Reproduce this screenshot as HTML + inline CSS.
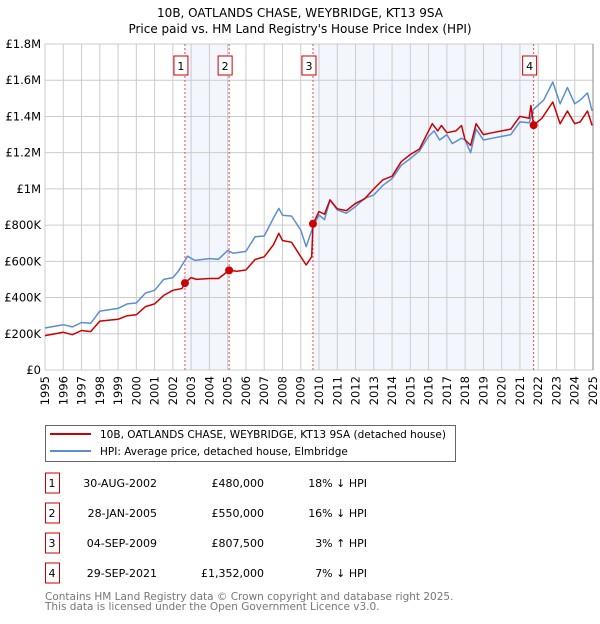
<!DOCTYPE html>
<html><head><meta charset="utf-8"><style>
body{margin:0;background:#fff;font-family:"DejaVu Sans","Liberation Sans",sans-serif;}
svg text{font-family:"DejaVu Sans","Liberation Sans",sans-serif;}
</style></head><body>
<svg id="c" width="600" height="620" viewBox="0 0 600 620" xmlns="http://www.w3.org/2000/svg">
<text x="300" y="17" text-anchor="middle" font-size="12">10B, OATLANDS CHASE, WEYBRIDGE, KT13 9SA</text>
<text x="300" y="33" text-anchor="middle" font-size="12">Price paid vs. HM Land Registry's House Price Index (HPI)</text>
<g id="plot"></g>
<g>
<rect x="45.5" y="425.5" width="410" height="36" fill="#fff" stroke="#666"/>
<line x1="50" y1="434" x2="91" y2="434" stroke="#cc0000" stroke-width="2"/>
<text x="100" y="438" font-size="10.5">10B, OATLANDS CHASE, WEYBRIDGE, KT13 9SA (detached house)</text>
<line x1="50" y1="451" x2="91" y2="451" stroke="#5b8fd0" stroke-width="2"/>
<text x="100" y="455" font-size="10.5">HPI: Average price, detached house, Elmbridge</text>
</g>
<g id="table" font-size="11"></g>
<text x="45" y="600" font-size="10.5" fill="#777">Contains HM Land Registry data © Crown copyright and database right 2025.</text>
<text x="45" y="610" font-size="10.5" fill="#777">This data is licensed under the Open Government Licence v3.0.</text>
</svg>
<script>
const hpiYears=[1995,1996,1996.5,1997,1997.5,1998,1999,1999.5,2000,2000.5,2001,2001.5,2002,2002.3,2002.8,2003.2,2004,2004.5,2005,2005.3,2006,2006.5,2007,2007.5,2007.8,2008,2008.5,2009,2009.3,2009.67,2010,2010.3,2010.6,2011,2011.5,2012,2012.5,2013,2013.5,2014,2014.5,2015,2015.5,2016,2016.3,2016.6,2017,2017.3,2017.8,2018,2018.3,2018.6,2019,2019.5,2020,2020.5,2021,2021.5,2021.75,2022.3,2022.8,2023.2,2023.6,2024,2024.3,2024.7,2024.95];
const hpiValues=[232,250,238,262,258,325,340,365,370,425,440,500,510,545,629,605,615,612,660,645,655,736,740,837,892,855,850,773,681,792,856,830,939,884,866,902,948,966,1020,1057,1130,1167,1210,1290,1320,1270,1300,1250,1280,1270,1200,1330,1270,1280,1290,1300,1370,1365,1440,1490,1590,1470,1560,1470,1490,1530,1430];
const priceYears=[1995,1996,1996.5,1997,1997.5,1998,1999,1999.5,2000,2000.5,2001,2001.5,2002,2002.5,2002.66,2003,2003.3,2004,2004.5,2005.08,2005.5,2006,2006.5,2007,2007.5,2007.8,2008,2008.5,2009,2009.3,2009.6,2009.67,2010,2010.3,2010.6,2011,2011.5,2012,2012.5,2013,2013.5,2014,2014.5,2015,2015.5,2016,2016.2,2016.5,2016.7,2017,2017.5,2017.8,2018,2018.3,2018.6,2019,2019.5,2020,2020.5,2021,2021.5,2021.6,2021.75,2022.2,2022.8,2023.2,2023.6,2024,2024.3,2024.7,2024.95];
const priceValues=[190,208,195,218,212,270,280,300,305,350,365,412,440,450,480,510,500,505,505,550,545,552,610,625,690,755,715,705,626,580,626,807.5,875,860,939,890,880,920,945,1000,1050,1070,1150,1190,1220,1320,1360,1320,1350,1310,1320,1350,1270,1240,1360,1300,1310,1320,1330,1400,1390,1460,1352,1390,1480,1360,1430,1360,1370,1430,1350];
const saleYears=[2002.66,2005.08,2009.67,2021.75];
const saleValues=[480,550,807.5,1352];
const saleLabels=["1","2","3","4"];
const saleDates=["30-AUG-2002","28-JAN-2005","04-SEP-2009","29-SEP-2021"];
const salePrices=["£480,000","£550,000","£807,500","£1,352,000"];
const saleDiffs=["18% ↓ HPI","16% ↓ HPI","3% ↑ HPI","7% ↓ HPI"];
const yTicks=[0,200,400,600,800,1000,1200,1400,1600,1800];
const yTickLabels=["£0","£200K","£400K","£600K","£800K","£1M","£1.2M","£1.4M","£1.6M","£1.8M"];
const xTicks=[1995,1996,1997,1998,1999,2000,2001,2002,2003,2004,2005,2006,2007,2008,2009,2010,2011,2012,2013,2014,2015,2016,2017,2018,2019,2020,2021,2022,2023,2024,2025];

const NS="http://www.w3.org/2000/svg";
const X0=45,X1=593,Y0=370,Y1=44;
const xs=y=>X0+(y-1995)/30*(X1-X0);
const ys=v=>Y0-v/1800*(Y0-Y1);
const plot=document.getElementById('plot');
function mk(tag,attrs,parent){const e=document.createElementNS(NS,tag);for(const k in attrs)e.setAttribute(k,attrs[k]);(parent||plot).appendChild(e);return e;}

for(let i=0;i<saleYears.length;i+=2){
  const r=mk('rect',{x:xs(saleYears[i]),y:Y1,width:xs(saleYears[i+1])-xs(saleYears[i]),height:Y0-Y1,fill:'#f3f6fd'});
  
  
}
yTicks.forEach((v,i)=>{
  const l=mk('line',{x1:X0,x2:X1,y1:ys(v),y2:ys(v),stroke:'#ccc','stroke-width':1});
  
  
  const t=mk('text',{x:X0-4,y:ys(v)+4,'text-anchor':'end','font-size':11.5});
  t.textContent=yTickLabels[i];
  
  
});
xTicks.forEach(v=>{
  const l=mk('line',{x1:xs(v),x2:xs(v),y1:Y1,y2:Y0,stroke:'#ccc','stroke-width':1});
  
  
  const t=mk('text',{x:0,y:0,'text-anchor':'end','font-size':11.5,transform:`translate(${xs(v)+4},${Y0+6}) rotate(-90)`});
  t.textContent=v;
  
  
});
mk('line',{x1:X1,x2:X1,y1:Y1,y2:Y0,stroke:'#888'});
saleYears.forEach((y,i)=>{
  const l=mk('line',{x1:xs(y),x2:xs(y),y1:Y1,y2:Y0,stroke:'#e05050','stroke-width':1,'stroke-dasharray':'2,2'});
  
  
});
function line(xv,yv,color,name){
  const d=xv.map((x,i)=>(i?'L':'M')+xs(x).toFixed(1)+','+ys(yv[i]).toFixed(1)).join('');
  const p=mk('path',{d:d,fill:'none',stroke:color,'stroke-width':1.5,'stroke-linejoin':'round'});
  
  
}
line(hpiYears,hpiValues,'#5b8fd0','hpi-line');
line(priceYears,priceValues,'#cc0000','price-paid-line');
saleYears.forEach((y,i)=>{
  const c=mk('circle',{cx:xs(y),cy:ys(saleValues[i]),r:4,fill:'#cc0000'});
  
  
  const g=mk('rect',{x:xs(y)-11,y:56,width:14,height:19,fill:'#fff',stroke:'#cc0000'});
  
  
  const t=mk('text',{x:xs(y)-4,y:70,'text-anchor':'middle','font-size':11});
  t.textContent=saleLabels[i];
  
  
});
const tb=document.getElementById('table');
saleLabels.forEach((s,i)=>{
  const cy=483+i*30;
  const r=mk('rect',{x:45.5,y:cy-10,width:14,height:20,fill:'#fff',stroke:'#cc0000'},tb);
  
  
  const cols=[[52,'middle',s,'table-index'],[157,'end',saleDates[i],'table-date'],[264,'end',salePrices[i],'table-price'],[367,'end',saleDiffs[i],'table-hpi-diff']];
  cols.forEach(c=>{
    const t=mk('text',{x:c[0],y:cy+4,'text-anchor':c[1]},tb);
    t.textContent=c[2];
    
    
  });
});
</script>
</body></html>
